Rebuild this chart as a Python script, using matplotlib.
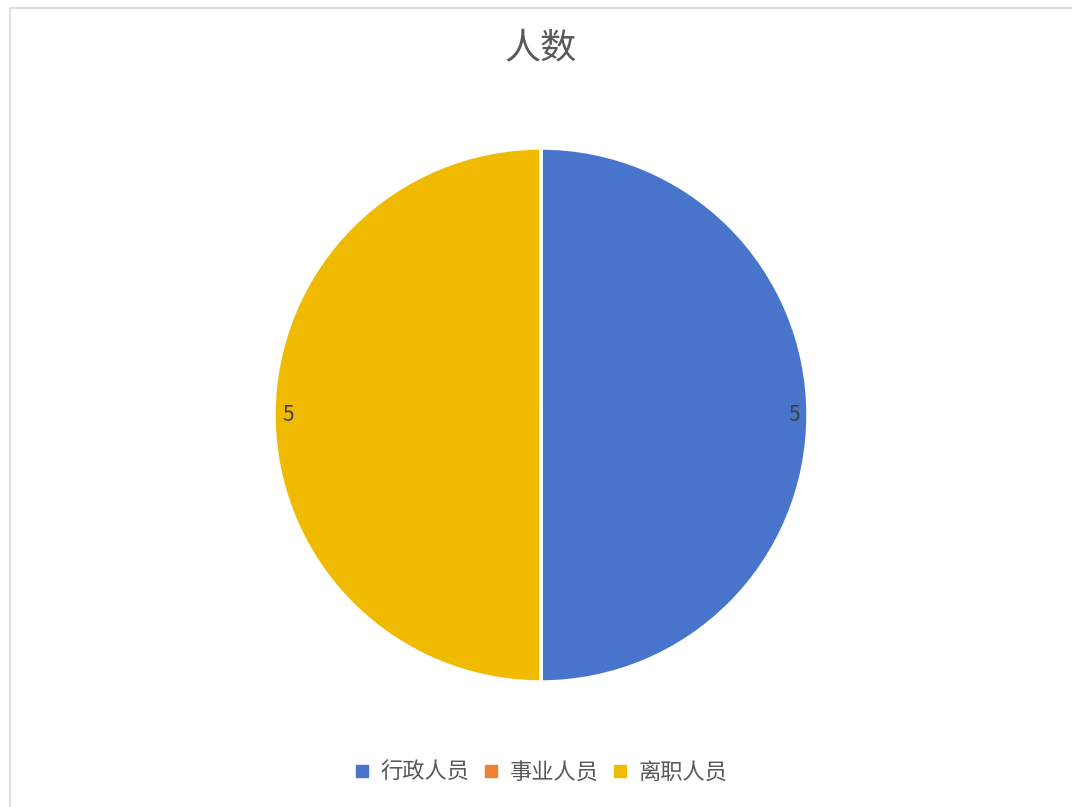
import matplotlib.pyplot as plt
from matplotlib.lines import Line2D
from matplotlib.patches import Rectangle

plt.rcParams['font.family'] = ['Noto Sans CJK SC', 'DejaVu Sans']

# 数据
categories = ['行政人员', '事业人员', '离职人员']
counts = [5, 0, 5]
colors = ['#4874CB', '#EE822F', '#F0BA00']

fig = plt.figure(figsize=(10.72, 8.07), dpi=100)

# 图表区边框
fig.patches.append(Rectangle((10 / 1072, -0.01), 1.02, 1 - 8 / 807 + 0.01,
                             transform=fig.transFigure, fill=False,
                             edgecolor='#D9D9D9', linewidth=1.2))

# 饼图区域：中心 (541, 415)，半径约 267 像素
r_px = 267
ax = fig.add_axes([(541 - r_px) / 1072, 1 - (415 + r_px) / 807,
                   2 * r_px / 1072, 2 * r_px / 807])
ax.pie(counts, colors=colors, startangle=90, counterclock=False, radius=1,
       wedgeprops=dict(edgecolor='white', linewidth=2.5),
       autopct=lambda p: '' if p == 0 else '%d' % round(p * sum(counts) / 100),
       pctdistance=0.948,
       textprops=dict(color='#404040', fontsize=15))
ax.set_xlim(-1, 1)
ax.set_ylim(-1, 1)
ax.set_aspect('equal')
ax.axis('off')

fig.text(541 / 1072, 1 - 48 / 807, '人数', ha='center', va='center',
         fontsize=26, color='#595959', fontweight='normal')

handles = [Line2D([], [], marker='s', linestyle='none', markersize=9,
                  markerfacecolor=c, markeredgecolor=c) for c in colors]
fig.legend(handles, categories, loc='center', bbox_to_anchor=(541 / 1072, 1 - 772 / 807),
           ncol=3, frameon=False, fontsize=16, labelcolor='#595959',
           handlelength=0.7, handletextpad=0.5, columnspacing=0.6)

fig.savefig('out.png', dpi=100)
